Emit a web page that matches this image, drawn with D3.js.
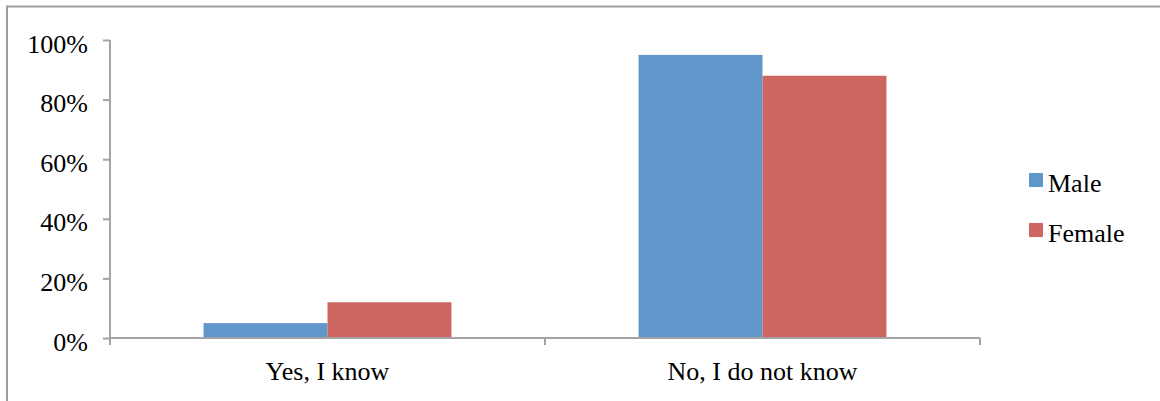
<!DOCTYPE html>
<html>
<head>
<meta charset="utf-8">
<script src="https://cdn.jsdelivr.net/npm/d3@7"></script>
</head>
<body style="margin:0">
<svg id="awareness" width="1160" height="401" font-family="Liberation Serif"></svg>
<script>
// Awareness by gender, share of respondents
const categories = ["Yes, I know", "No, I do not know"];
const seriesNames = ["Male", "Female"];
const maleValues = [0.05, 0.95];
const femaleValues = [0.12, 0.88];
const yTicks = [0, 0.2, 0.4, 0.6, 0.8, 1.0];
const seriesColors = ["#6096C9", "#CD6660"];

const svg = d3.select("#awareness");
const axisColor = "#A3A3A3";
const labelFont = "'Liberation Serif'";

function applyLabelStyle(sel) {
  sel.attr("font-family", "Liberation Serif")
     .style("font-family", labelFont)
     .style("font-size", "26px")
     .attr("fill", "#000");
}

// chart frame
svg.append("path")
  .attr("d", "M7,401 V6.5 H1160")
  .attr("fill", "none")
  .attr("stroke", "#9E9E9E")
  .attr("stroke-width", 2);

const plot = { left: 110, right: 980, top: 40, bottom: 338 };

const x0 = d3.scaleBand()
  .domain(categories)
  .range([plot.left, plot.right])
  .padding(0);

const x1 = d3.scaleBand()
  .domain(seriesNames)
  .range([0, x0.bandwidth()])
  .paddingInner(0)
  .paddingOuter(0.755);

const y = d3.scaleLinear()
  .domain([0, 1])
  .range([plot.bottom, plot.top]);

const rows = categories.map((c, i) => ({
  category: c,
  values: [
    { series: seriesNames[0], value: maleValues[i] },
    { series: seriesNames[1], value: femaleValues[i] }
  ]
}));

// bars
const groups = svg.append("g").selectAll("g")
  .data(rows)
  .join("g")
  .attr("transform", d => `translate(${x0(d.category)},0)`);

groups.selectAll("rect")
  .data(d => d.values)
  .join("rect")
  .attr("x", d => x1(d.series))
  .attr("y", d => y(d.value))
  .attr("width", x1.bandwidth())
  .attr("height", d => y(0) - y(d.value))
  .attr("fill", (d, i) => seriesColors[i]);

// y axis
const yAxis = d3.axisLeft(y)
  .tickValues(yTicks)
  .tickFormat(d3.format(".0%"))
  .tickSize(7)
  .tickPadding(15);

const gy = svg.append("g")
  .attr("transform", `translate(${plot.left},0)`)
  .call(yAxis);
gy.attr("font-family", "Liberation Serif").attr("font-size", null);
gy.select(".domain").attr("stroke", axisColor).attr("stroke-width", 2)
  .attr("d", `M0,${plot.top}V${plot.bottom}`);
gy.selectAll(".tick line").attr("stroke", axisColor).attr("stroke-width", 2);
gy.selectAll(".tick text")
  .call(applyLabelStyle)
  .attr("dy", "12px");

// x axis
const xAxis = d3.axisBottom(x0).tickSize(0);
const gx = svg.append("g")
  .attr("transform", `translate(0,${plot.bottom})`)
  .call(xAxis);
gx.attr("font-family", "Liberation Serif").attr("font-size", null);
gx.select(".domain").attr("stroke", axisColor).attr("stroke-width", 2)
  .attr("d", `M${plot.left},0H${plot.right}`);
gx.selectAll(".tick text")
  .call(applyLabelStyle)
  .attr("y", 42)
  .attr("dy", null);

// category boundary ticks
const boundaries = categories.map(c => x0(c)).concat([x0(categories[categories.length - 1]) + x0.bandwidth()]);
gx.selectAll("line.boundary")
  .data(boundaries)
  .join("line")
  .attr("class", "boundary")
  .attr("x1", d => d).attr("x2", d => d)
  .attr("y1", 0).attr("y2", 7)
  .attr("stroke", axisColor)
  .attr("stroke-width", 2);

// legend
const legend = svg.append("g").attr("transform", "translate(1029,173)");
const items = legend.selectAll("g")
  .data(seriesNames)
  .join("g")
  .attr("transform", (d, i) => `translate(0,${i * 50})`);
items.append("rect")
  .attr("width", 14).attr("height", 14)
  .attr("fill", (d, i) => seriesColors[i]);
items.append("text")
  .attr("x", 19).attr("y", 19)
  .call(applyLabelStyle)
  .text(d => d);
</script>
</body>
</html>
